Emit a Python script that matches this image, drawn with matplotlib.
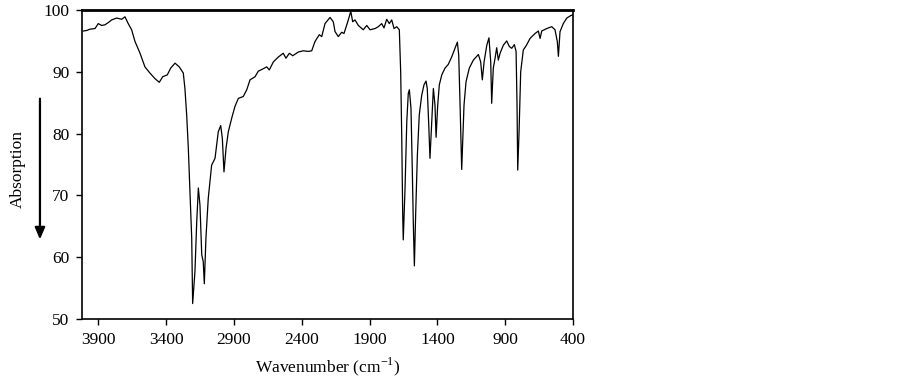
import matplotlib
matplotlib.use("Agg")
import matplotlib.pyplot as plt

plt.rcParams["font.family"] = ["Liberation Serif", "DejaVu Serif"]
plt.rcParams["mathtext.fontset"] = "custom"
plt.rcParams["mathtext.rm"] = "Liberation Serif"

# IR spektrumu
wavenumber = [
    4011, 3985, 3962, 3925, 3901, 3876, 3852, 3825, 3802, 3765, 3728, 3704,
    3680, 3655, 3630, 3593, 3557, 3520, 3483, 3451, 3426, 3392, 3367, 3335,
    3304, 3274, 3262, 3249, 3237, 3225, 3212, 3205, 3188, 3175, 3163, 3151,
    3138, 3127, 3119, 3107, 3090, 3065, 3040, 3016, 2998, 2986, 2974, 2959,
    2942, 2917, 2893, 2868, 2832, 2806, 2782, 2745, 2721, 2684, 2659, 2640,
    2610, 2573, 2537, 2517, 2492, 2467, 2426, 2389, 2352, 2327, 2303, 2271,
    2253, 2229, 2192, 2168, 2155, 2131, 2106, 2089, 2057, 2039, 2025, 2008,
    1983, 1947, 1921, 1897, 1860, 1836, 1811, 1794, 1774, 1755, 1737, 1720,
    1700, 1681, 1671, 1663, 1656, 1652, 1639, 1626, 1615, 1607, 1595, 1585,
    1578, 1570, 1560, 1548, 1534, 1516, 1499, 1484, 1475, 1464, 1455, 1442,
    1430, 1418, 1410, 1398, 1386, 1368, 1344, 1320, 1295, 1270, 1253, 1243,
    1233, 1221, 1204, 1189, 1165, 1135, 1098, 1081, 1069, 1056, 1036, 1020,
    1007, 1000, 988, 975, 963, 951, 938, 914, 889, 870, 852, 833,
    820, 813, 808, 798, 786, 767, 741, 717, 680, 656, 643, 631,
    594, 557, 533, 516, 508, 496, 472, 446, 417, 402,
]
absorption = [
    96.6, 96.7, 96.9, 97.0, 97.8, 97.5, 97.6, 98.0, 98.4, 98.7, 98.5, 98.9,
    97.8, 96.8, 94.9, 93.0, 90.8, 89.8, 88.9, 88.3, 89.2, 89.5, 90.6, 91.4,
    90.8, 89.8, 87.3, 83.0, 77.7, 70.6, 63.1, 52.5, 57.7, 65.7, 71.2, 68.4,
    60.4, 59.3, 55.7, 63.1, 69.5, 74.9, 76.0, 80.3, 81.3, 79.2, 73.8, 77.6,
    80.3, 82.5, 84.4, 85.7, 86.0, 87.1, 88.7, 89.2, 90.1, 90.5, 90.8, 90.3,
    91.6, 92.4, 93.0, 92.2, 93.0, 92.6, 93.2, 93.4, 93.3, 93.4, 94.9, 96.0,
    95.7, 97.8, 98.8, 98.1, 96.5, 95.7, 96.4, 96.2, 98.4, 99.8, 98.1, 98.4,
    97.5, 96.8, 97.5, 96.8, 97.0, 97.3, 97.8, 97.1, 98.5, 97.8, 98.4, 97.0,
    97.3, 96.8, 90.0, 79.2, 66.8, 62.8, 71.1, 81.9, 86.5, 87.1, 84.1, 73.8,
    65.7, 58.6, 67.4, 76.5, 83.0, 86.2, 87.9, 88.5, 87.3, 81.4, 76.0, 81.9,
    87.3, 84.6, 79.4, 84.6, 87.9, 89.5, 90.6, 91.2, 92.4, 93.8, 94.8, 92.7,
    84.6, 74.2, 84.6, 88.4, 90.6, 91.9, 92.8, 91.6, 88.7, 91.6, 94.3, 95.5,
    91.6, 84.9, 90.6, 92.2, 93.9, 91.9, 93.0, 94.3, 95.0, 94.1, 93.8, 94.4,
    93.3, 84.6, 74.1, 80.3, 90.0, 93.5, 94.4, 95.4, 96.2, 96.6, 95.4, 96.6,
    97.0, 97.3, 96.8, 94.9, 92.5, 96.5, 97.8, 98.7, 99.1, 99.2,
]

x_ticks = [3900, 3400, 2900, 2400, 1900, 1400, 900, 400]
y_ticks = [50, 60, 70, 80, 90, 100]

fig = plt.figure(figsize=(9.02, 3.82), dpi=100)
ax = fig.add_axes([0.0909, 0.1649, 0.5444, 0.8089])

ax.plot(wavenumber, absorption, color="black", linewidth=0.9)

ax.set_xlim(4021, 400)
ax.set_ylim(50, 100)
ax.set_xticks(x_ticks)
ax.set_yticks(y_ticks)
ax.tick_params(direction="out", length=4, width=1, labelsize=12.5, pad=5)

for side in ["left", "bottom", "right"]:
    ax.spines[side].set_linewidth(1.2)
ax.spines["top"].set_linewidth(2)

ax.set_xlabel("Wavenumber (cm$^{-1}$)", fontsize=12.5, labelpad=6)

# y ekseni etiketi ve asagi yonlu ok
fig.text(0.020, 0.558, "Absorption", rotation=90, ha="center", va="center", fontsize=12.5)
fig.patches.append(matplotlib.patches.FancyArrowPatch(
    (0.0443, 0.749), (0.0443, 0.366), transform=fig.transFigure,
    arrowstyle="-|>,head_length=7,head_width=3", color="black", linewidth=1.6,
    mutation_scale=1))

fig.savefig("out.png", dpi=100)
